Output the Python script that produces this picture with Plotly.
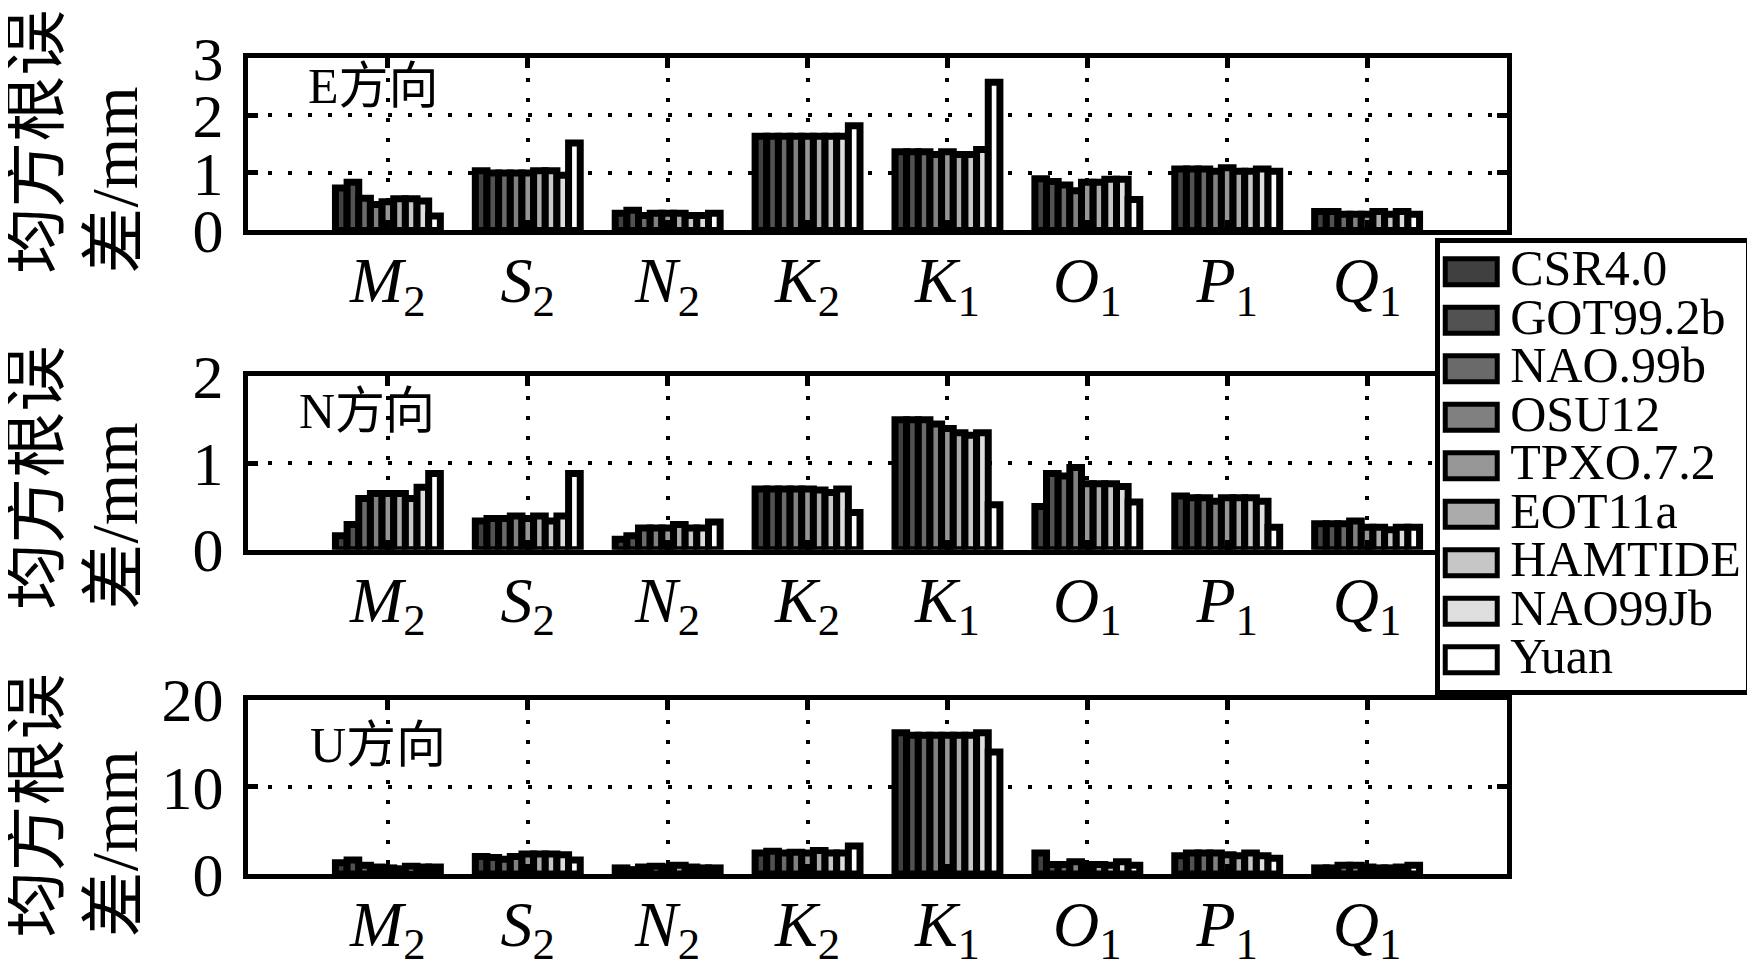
import plotly.graph_objects as go
from plotly.subplots import make_subplots

# --- categories and series ---
tides = ["M2", "S2", "N2", "K2", "K1", "O1", "P1", "Q1"]
models = ["CSR4.0", "GOT99.2b", "NAO.99b", "OSU12", "TPXO.7.2",
          "EOT11a", "HAMTIDE", "NAO99Jb", "Yuan"]
colors = ["#404040", "#525252", "#6a6a6a", "#808080", "#969696",
          "#ababab", "#c6c6c6", "#dedede", "#ffffff"]

# RMS (mm), one row per tide, values in model order
e_rms = [
    [0.74, 0.84, 0.56, 0.45, 0.50, 0.55, 0.55, 0.51, 0.25],  # M2
    [1.04, 1.00, 1.00, 1.00, 1.00, 1.04, 1.04, 0.96, 1.52],  # S2
    [0.30, 0.35, 0.26, 0.30, 0.30, 0.30, 0.26, 0.26, 0.30],  # N2
    [1.64, 1.64, 1.64, 1.64, 1.64, 1.64, 1.64, 1.64, 1.82],  # K2
    [1.37, 1.37, 1.37, 1.32, 1.37, 1.32, 1.32, 1.41, 2.58],  # K1
    [0.90, 0.85, 0.79, 0.69, 0.84, 0.84, 0.89, 0.89, 0.54],  # O1
    [1.07, 1.07, 1.07, 1.03, 1.09, 1.03, 1.03, 1.07, 1.03],  # P1
    [0.33, 0.33, 0.28, 0.28, 0.28, 0.33, 0.28, 0.33, 0.28],  # Q1
]
n_rms = [
    [0.16, 0.29, 0.59, 0.65, 0.65, 0.65, 0.59, 0.72, 0.88],
    [0.33, 0.36, 0.36, 0.39, 0.36, 0.39, 0.33, 0.39, 0.88],
    [0.12, 0.16, 0.25, 0.25, 0.25, 0.29, 0.25, 0.25, 0.32],
    [0.70, 0.70, 0.70, 0.70, 0.70, 0.69, 0.66, 0.70, 0.43],
    [1.50, 1.50, 1.50, 1.45, 1.40, 1.35, 1.32, 1.35, 0.52],
    [0.50, 0.88, 0.85, 0.95, 0.76, 0.76, 0.76, 0.73, 0.55],
    [0.62, 0.60, 0.60, 0.56, 0.60, 0.60, 0.60, 0.56, 0.26],
    [0.30, 0.30, 0.30, 0.33, 0.26, 0.26, 0.23, 0.26, 0.26],
]
u_rms = [
    [1.3, 1.6, 1.0, 0.8, 0.7, 0.6, 0.9, 0.8, 0.8],
    [2.0, 1.9, 1.7, 2.0, 2.3, 2.3, 2.3, 2.2, 1.6],
    [0.7, 0.5, 0.8, 0.9, 0.8, 1.0, 0.8, 0.7, 0.7],
    [2.4, 2.6, 2.4, 2.5, 2.4, 2.7, 2.4, 2.4, 3.2],
    [16.2, 15.9, 15.9, 15.9, 15.9, 15.9, 15.9, 16.2, 14.0],
    [2.4, 1.1, 1.1, 1.4, 1.1, 1.1, 1.0, 1.4, 1.0],
    [2.1, 2.4, 2.4, 2.4, 2.2, 2.1, 2.4, 2.1, 1.8],
    [0.7, 0.7, 1.0, 1.0, 0.8, 0.7, 0.7, 0.8, 1.0],
]

panels = [("E方向", e_rms, 3), ("N方向", n_rms, 2), ("U方向", u_rms, 20)]
tick_text = [f"<i>{t[0]}</i><sub>{t[1]}</sub>" for t in tides]

SERIF = "Liberation Serif, Times New Roman, Noto Sans CJK SC"

fig = make_subplots(rows=3, cols=1)

for row, (label, table, ymax) in enumerate(panels, start=1):
    for j, name in enumerate(models):
        fig.add_trace(go.Bar(
            x=tides,
            y=[vals[j] for vals in table],
            name=f'<span style="font-size:50px">{name}</span>',
            legendgroup=name,
            showlegend=(row == 1),
            marker=dict(color=colors[j], line=dict(color="black", width=7)),
        ), row=row, col=1)

# --- axes: boxed frame with dotted black grid ---
grid = dict(showgrid=True, gridcolor="black", gridwidth=4, griddash="4px,16px",
            showline=True, linecolor="black", linewidth=5, mirror="allticks",
            ticks="inside", ticklen=10, tickwidth=5, tickcolor="black",
            zeroline=False)

domains = [[0.7887, 1.0], [0.3974, 0.6098], [0.0, 0.2137]]
for i, (label, table, ymax) in enumerate(panels, start=1):
    fig.update_xaxes(grid, range=[-1, 8], tickvals=tides, ticktext=tick_text,
                     ticklabelstandoff=-10,
                     tickfont=dict(family=SERIF, size=64, color="black"),
                     row=i, col=1)
    fig.update_yaxes(grid, range=[0, ymax], dtick=10 if ymax == 20 else 1,
                     domain=domains[i - 1], ticklabelstandoff=7,
                     tickfont=dict(family=SERIF, size=62, color="black"),
                     row=i, col=1)

# --- panel labels and y titles ---
label_pos = [(0.0458, 0.966), (0.0387, 0.567), (0.0474, 0.158)]
title_bottom = [0.7335, 0.3217, -0.080]
for i, (label, table, ymax) in enumerate(panels):
    fig.add_annotation(text=label, xref="paper", yref="paper",
                       x=label_pos[i][0], y=label_pos[i][1],
                       xanchor="left", yanchor="middle", showarrow=False,
                       font=dict(family=SERIF, size=50, color="black"))
    fig.add_annotation(text="均方根误", xref="paper", yref="paper",
                       x=-0.169, y=title_bottom[i], textangle=-90,
                       xanchor="center", yanchor="bottom", showarrow=False,
                       font=dict(family=SERIF, size=66, color="black"))
    fig.add_annotation(text="差/mm", xref="paper", yref="paper",
                       x=-0.106, y=title_bottom[i], textangle=-90,
                       xanchor="center", yanchor="bottom", showarrow=False,
                       font=dict(family=SERIF, size=66, color="black"))

fig.update_layout(
    width=1755, height=973,
    margin=dict(l=240, r=250, t=50, b=90),
    barmode="group", bargap=0.25, bargroupgap=0,
    plot_bgcolor="white", paper_bgcolor="white",
    legend=dict(x=0.943, y=0.780, xanchor="left", yanchor="top",
                bgcolor="white", bordercolor="black", borderwidth=5,
                font=dict(family=SERIF, size=35, color="black"),
                itemwidth=60, tracegroupgap=0),
)

# wider legend swatches, like the boxed patches of the original figure
swatch_js = """
var gd = document.getElementById('{plot_id}');
function widenSwatches() {
    gd.querySelectorAll('g.legendpoints path').forEach(function(p) {
        p.setAttribute('d', 'M22,13H-30V-13H22Z');
        p.style.strokeWidth = '5px';
    });
}
widenSwatches();
gd.on('plotly_afterplot', widenSwatches);
"""

fig.write_html("out.html", post_script=swatch_js)
